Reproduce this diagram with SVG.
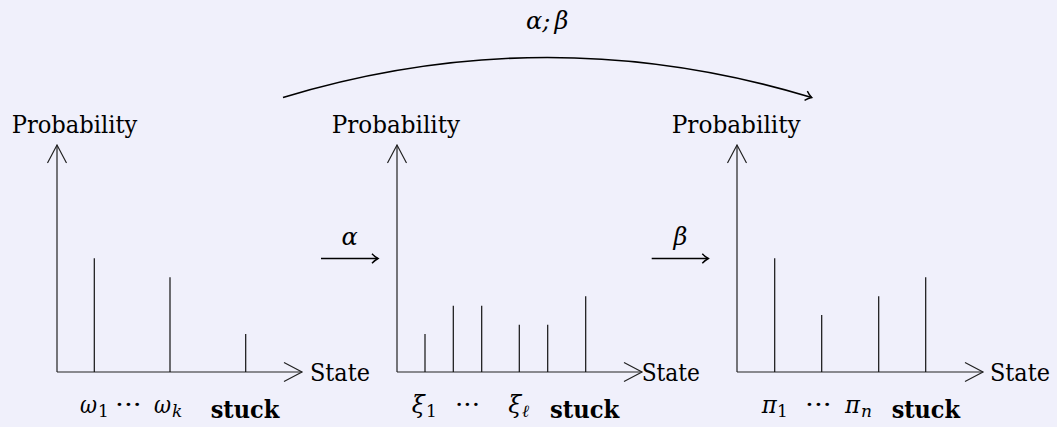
<svg xmlns="http://www.w3.org/2000/svg" width="1057" height="427" viewBox="0 0 1057 427" font-family="DejaVu Serif, Liberation Serif, serif">
<style>
.ax{fill:none;stroke:#222;stroke-width:1.2}
.bar{stroke:#111;stroke-width:1.2}
.head{fill:none;stroke:#222;stroke-width:1.2;stroke-linejoin:miter}
.conn{fill:none;stroke:#000;stroke-width:1.6}
.t{font-size:24px}
.m{font-style:italic;font-size:24px}
.s{font-size:17px}
.si{font-style:italic;font-size:17px}
.b{font-weight:bold;font-size:24px}
</style>
<defs>
<marker id="tip" markerWidth="12" markerHeight="12" refX="8" refY="6" orient="auto" markerUnits="userSpaceOnUse">
<path d="M2,1.2 Q5,4.5 8,6 Q5,7.5 2,10.8" fill="none" stroke="#000" stroke-width="1.4"/>
</marker>
</defs>
<rect width="1057" height="427" fill="#f0f0fb"/>

<g id="chart1">
<path class="ax" d="M57,372 V145 M57,372 H302"/>
<path class="head" d="M47.5,163 L57,145 L66.5,163 M284,362.5 L302,372 L284,381.5"/>
<line class="bar" x1="94.3" y1="372" x2="94.3" y2="258.3"/>
<line class="bar" x1="170" y1="372" x2="170" y2="277.3"/>
<line class="bar" x1="245.7" y1="372" x2="245.7" y2="334"/>
<text class="t" x="11.7" y="133.3" textLength="125.6" lengthAdjust="spacingAndGlyphs">Probability</text>
<text class="t" x="310" y="381" textLength="60" lengthAdjust="spacingAndGlyphs">State</text>
<text class="m" x="80" y="413" textLength="17" lengthAdjust="spacingAndGlyphs">ω</text><text class="s" x="98" y="417">1</text>
<text class="t" x="115" y="413" textLength="26.7" lengthAdjust="spacingAndGlyphs">···</text>
<text class="m" x="154" y="413" textLength="17" lengthAdjust="spacingAndGlyphs">ω</text><text class="si" x="172" y="417">k</text>
<text class="b" x="210.7" y="418" textLength="68.6" lengthAdjust="spacingAndGlyphs">stuck</text>
</g>

<g id="chart2">
<path class="ax" d="M397,372 V145 M397,372 H642"/>
<path class="head" d="M387.5,163 L397,145 L406.5,163 M624,362.5 L642,372 L624,381.5"/>
<line class="bar" x1="425" y1="372" x2="425" y2="334"/>
<line class="bar" x1="453.3" y1="372" x2="453.3" y2="305.7"/>
<line class="bar" x1="481.7" y1="372" x2="481.7" y2="305.7"/>
<line class="bar" x1="519.3" y1="372" x2="519.3" y2="324.7"/>
<line class="bar" x1="547.7" y1="372" x2="547.7" y2="324.7"/>
<line class="bar" x1="585.7" y1="372" x2="585.7" y2="296.3"/>
<text class="t" x="331.7" y="133.3" textLength="128.3" lengthAdjust="spacingAndGlyphs">Probability</text>
<text class="t" x="641.7" y="381" textLength="58.3" lengthAdjust="spacingAndGlyphs">State</text>
<text class="m" x="411.7" y="413" textLength="13" lengthAdjust="spacingAndGlyphs">ξ</text><text class="s" x="426" y="417">1</text>
<text class="t" x="455" y="413" textLength="25" lengthAdjust="spacingAndGlyphs">···</text>
<text class="m" x="508.3" y="413" textLength="13" lengthAdjust="spacingAndGlyphs">ξ</text><text class="si" x="522" y="417">ℓ</text>
<text class="b" x="550" y="418" textLength="69.3" lengthAdjust="spacingAndGlyphs">stuck</text>
</g>

<g id="chart3">
<path class="ax" d="M737,372 V145 M737,372 H983"/>
<path class="head" d="M727.5,163 L737,145 L746.5,163 M965,362.5 L983,372 L965,381.5"/>
<line class="bar" x1="774.7" y1="372" x2="774.7" y2="258.3"/>
<line class="bar" x1="821.7" y1="372" x2="821.7" y2="315"/>
<line class="bar" x1="878.7" y1="372" x2="878.7" y2="296.3"/>
<line class="bar" x1="925.7" y1="372" x2="925.7" y2="277.3"/>
<text class="t" x="671.7" y="133.3" textLength="129" lengthAdjust="spacingAndGlyphs">Probability</text>
<text class="t" x="990" y="381" textLength="60" lengthAdjust="spacingAndGlyphs">State</text>
<text class="m" x="761.7" y="413" textLength="15" lengthAdjust="spacingAndGlyphs">π</text><text class="s" x="777" y="417">1</text>
<text class="t" x="805" y="413" textLength="26.7" lengthAdjust="spacingAndGlyphs">···</text>
<text class="m" x="845" y="413" textLength="15" lengthAdjust="spacingAndGlyphs">π</text><text class="si" x="861" y="417">n</text>
<text class="b" x="891.7" y="418" textLength="68.3" lengthAdjust="spacingAndGlyphs">stuck</text>
</g>

<g id="connectors">
<path class="conn" d="M321,258.5 H378" marker-end="url(#tip)"/>
<text class="m" x="349.5" y="245" text-anchor="middle">α</text>
<path class="conn" d="M651.7,258.5 H708.3" marker-end="url(#tip)"/>
<text class="m" x="680.5" y="245" text-anchor="middle">β</text>
<path class="conn" d="M283,97.5 Q547.5,17.5 811.7,97.5" marker-end="url(#tip)"/>
<text class="m" x="526" y="29" textLength="42.3" lengthAdjust="spacing">α;<tspan dx="4">β</tspan></text>
</g>
</svg>
